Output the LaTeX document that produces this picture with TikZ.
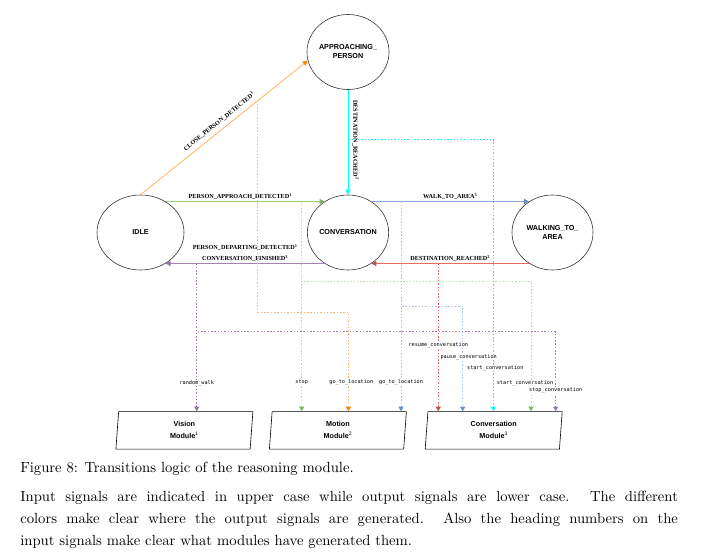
\documentclass[tikz,border=0pt]{standalone}
\usepackage{fontspec}
\usepackage{xcolor}
\usetikzlibrary{arrows.meta, calc, positioning, shapes.geometric}
\newfontfamily\stfont{Liberation Sans}
\newfontfamily\trfont{Liberation Serif}
\newfontfamily\outfont{DejaVu Sans Mono}
\definecolor{orL}{HTML}{FFB366}
\definecolor{orD}{HTML}{FFB570}
\definecolor{orT}{HTML}{FF8000}
\definecolor{grL}{HTML}{97D077}
\definecolor{grD}{HTML}{B9E0A5}
\definecolor{grT}{HTML}{82B366}
\definecolor{blL}{HTML}{7EA6E0}
\definecolor{blD}{HTML}{A9C4EB}
\definecolor{blT}{HTML}{6C8EBF}
\definecolor{rdL}{HTML}{EA6B66}
\definecolor{rdT}{HTML}{B85450}
\definecolor{puL}{HTML}{A680B8}
\definecolor{puT}{HTML}{9673A6}
\definecolor{cy}{HTML}{00FFFF}
\definecolor{g}{HTML}{333333}

\begin{document}
\begin{tikzpicture}[x=1pt, y=-1pt,
	statenode/.style={ellipse, draw=g, line width=.6pt, minimum width=80pt, minimum height=75pt, inner sep=0pt, align=center, font=\stfont\bfseries\fontsize{7.2}{9}\selectfont},
	modbox/.style={trapezium, trapezium left angle=81, trapezium right angle=99, trapezium stretches body, draw=black, line width=.6pt, minimum width=137pt, minimum height=37.5pt, inner sep=0pt, align=center, font=\stfont\bfseries\fontsize{7.2}{12}\selectfont},
	transit/.style 2 args={draw=#1, line width=.8pt, -{Triangle[length=5pt, width=5pt, color=#2]}},
	outsig/.style 2 args={draw=#1, line width=.9pt, dash pattern=on 1.5pt off 1.8pt, -{Triangle[length=4.5pt, width=5pt, color=#2]}},
	tlab/.style={font=\trfont\bfseries\fontsize{6.2}{7}\selectfont, inner sep=1.5pt, text=black},
	olab/.style={font=\outfont\fontsize{5.2}{6}\selectfont, fill=white, inner sep=.6pt, text=black}]
	\useasboundingbox (0,0) rectangle (701,556);
	
	% states
	\node[statenode] (appr) at (348,52) {APPROACHING\_\\PERSON};
	\node[statenode, minimum width=87pt] (idle) at (140.5,232.5) {IDLE};
	\node[statenode] (conv) at (348,232.5) {CONVERSATION};
	\node[statenode, minimum width=81pt] (walk) at (552.5,232.5) {WALKING\_TO\_\\AREA};
	
	% modules
	\node[modbox] (vis) at (184.4,430.3) {Vision\\Module\textsuperscript{\mdseries 1}};
	\node[modbox] (mot) at (337.9,430.3) {Motion\\Module\textsuperscript{\mdseries 2}};
	\node[modbox] (cmod) at (493.7,430.3) {Conversation\\Module\textsuperscript{\mdseries 3}};
	
	% input signals
	\draw[transit={orL}{orT}] (idle.north) -- (appr.192)
		node[tlab, sloped, above=3pt, pos=.5] (cpdl) {CLOSE\_PERSON\_DETECTED\textsuperscript{1}}
		coordinate[pos=.7] (cpd);
	\draw[transit={grL}{grT}] (idle.51) -- (idle.51 -| conv.127)
		node[tlab, above, pos=.47] (padl) {PERSON\_APPROACH\_DETECTED\textsuperscript{1}}
		coordinate[pos=.856] (pad);
	\draw[transit={cy}{cy}] (appr.south) -- (conv.north)
		node[tlab, rotate=-90, anchor=south, inner sep=4pt, pos=.48] (dr1l) {DESTINATION\_REACHED\textsuperscript{2}}
		coordinate[pos=.47] (dr1);
	\draw[transit={blL}{blT}] (conv.53) -- (conv.53 -| walk.127)
		node[tlab, above, pos=.5] (wtal) {WALK\_TO\_AREA\textsuperscript{3}}
		coordinate[pos=.188] (wta);
	\draw[transit={rdL}{rdT}] (walk.233) -- (walk.233 -| conv.307)
		node[tlab, above, pos=.5] (dr2l) {DESTINATION\_REACHED\textsuperscript{2}}
		coordinate[pos=.576] (dr2);
	\draw[transit={puL}{puT}] (conv.233) -- (conv.233 -| idle.309)
		node[tlab, above, pos=.5, align=center] (cfl) {PERSON\_DEPARTING\_DETECTED\textsuperscript{1}\\[4pt]CONVERSATION\_FINISHED\textsuperscript{3}}
		coordinate[pos=.804] (cfin);
	
	% output signals
	\draw[outsig={orD}{orT}] (cpd) |- (348.3,312) -- (348.3,0 |- mot.north)
		node[olab, pos=.71, xshift=3pt] (o1) {go\_to\_location};
	\draw[outsig={grD}{grT}] (pad) -- (pad |- mot.north)
		node[olab, pos=.863] (o2) {stop};
	\draw[outsig={grD}{grT}] (pad) |- (531,281.7) -- (531,0 |- cmod.north)
		node[olab, pos=.78, xshift=-6pt] (o3) {start\_conversation};
	\draw[outsig={blD}{blT}] (wta) -- (wta |- mot.north)
		node[olab, pos=.863] (o4) {go\_to\_location};
	\draw[outsig={blD}{blT}] (wta) |- (462.7,306) -- (462.7,0 |- cmod.north)
		node[olab, pos=.49, xshift=6pt] (o5) {pause\_conversation};
	\draw[outsig={rdL}{rdT}] (dr2) -- (dr2 |- cmod.north)
		node[olab, pos=.55] (o6) {resume\_conversation};
	\draw[outsig={cy}{cy}] (dr1) -| (493.3,0 |- cmod.north)
		node[olab, pos=.92, xshift=2pt] (o7) {start\_conversation};
	\draw[outsig={puL}{puT}] (cfin) -- (cfin |- vis.north)
		node[olab, pos=.81] (o8) {random\_walk};
	\draw[outsig={puL}{puT}] (cfin) |- (555.7,331.7) -- (555.7,0 |- cmod.north)
		node[olab, pos=.74] (o9) {stop\_conversation};
	
	% caption
	\node[anchor=north west, inner sep=0pt, scale=1.468, text width=448pt, align=justify, font=\fontsize{10}{15}\selectfont] (cap) at (20,462) {Figure 8: Transitions logic of the reasoning module.\\[4.5pt]
		Input signals are indicated in upper case while output signals are lower case.  The different\linebreak
		colors make clear where the output signals are generated.  Also the heading numbers on the\linebreak
		input signals make clear what modules have generated them.};
\end{tikzpicture}
\end{document}
